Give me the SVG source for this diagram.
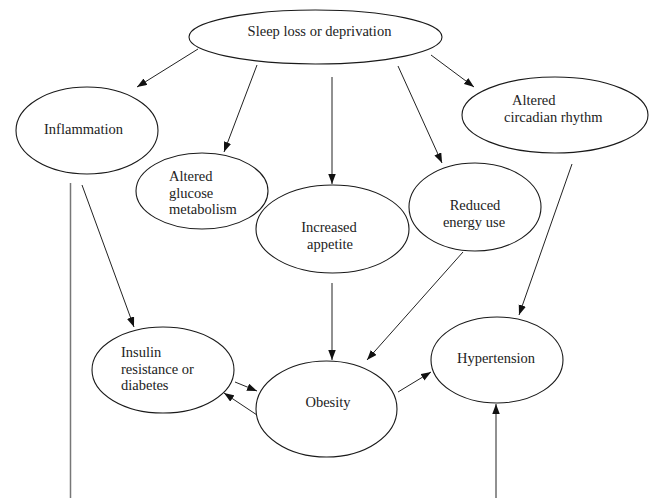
<svg xmlns="http://www.w3.org/2000/svg" width="651" height="498" viewBox="0 0 651 498">
<defs>
<style>
.n ellipse{fill:#fff;stroke:#1a1a1a;stroke-width:1.1}
text{font-family:"Liberation Serif","Times New Roman",serif;font-size:14.5px;fill:#222}
.c{text-anchor:middle}
#connectors line{stroke:#222;stroke-width:1}
</style>
<marker id="ah" markerUnits="userSpaceOnUse" markerWidth="10" markerHeight="8" refX="10" refY="3.75" orient="auto">
<path d="M0,0 L10,3.75 L0,7.5 z" fill="#111"/>
</marker>
</defs>
<rect width="651" height="498" fill="#fff"/>
<g id="connectors">
<line x1="198" y1="49" x2="137" y2="87" marker-end="url(#ah)"/>
<line x1="257" y1="65" x2="224" y2="152" marker-end="url(#ah)"/>
<line x1="332" y1="77" x2="332" y2="184" marker-end="url(#ah)"/>
<line x1="398" y1="66" x2="442" y2="163" marker-end="url(#ah)"/>
<line x1="431" y1="55" x2="474" y2="87" marker-end="url(#ah)"/>
<line x1="572" y1="164" x2="519" y2="315" marker-end="url(#ah)"/>
<line x1="82" y1="185" x2="134" y2="327" marker-end="url(#ah)"/>
<line x1="332" y1="283" x2="332" y2="360" marker-end="url(#ah)"/>
<line x1="463" y1="252" x2="367" y2="360" marker-end="url(#ah)"/>
<line x1="235" y1="382" x2="257" y2="391" marker-end="url(#ah)"/>
<line x1="257" y1="415" x2="224" y2="393" marker-end="url(#ah)"/>
<line x1="398" y1="392" x2="431" y2="372" marker-end="url(#ah)"/>
<line x1="496" y1="498" x2="496" y2="404" marker-end="url(#ah)"/>
<line x1="70.5" y1="183" x2="70.5" y2="498" style="stroke:#777;stroke-width:1.5"/>
</g>
<g id="sleep" class="n"><ellipse cx="315.5" cy="37" rx="126.5" ry="27"/><text class="c" x="319.5" y="36">Sleep loss or deprivation</text></g>
<g id="inflammation" class="n"><ellipse cx="87" cy="130.5" rx="71" ry="43.5"/><text class="c" x="83.5" y="134">Inflammation</text></g>
<g id="glucose" class="n"><ellipse cx="202" cy="191" rx="66" ry="38"/><text x="169" y="181">Altered</text><text x="169" y="197.5">glucose</text><text x="169" y="214">metabolism</text></g>
<g id="appetite" class="n"><ellipse cx="332.5" cy="229" rx="76.5" ry="44"/><text class="c" x="329" y="232">Increased</text><text class="c" x="330" y="249">appetite</text></g>
<g id="energy" class="n"><ellipse cx="475" cy="207" rx="66" ry="44"/><text class="c" x="475" y="210">Reduced</text><text class="c" x="474" y="227">energy use</text></g>
<g id="circadian" class="n"><ellipse cx="555" cy="115" rx="93" ry="38"/><text x="512" y="105">Altered</text><text x="504" y="122">circadian rhythm</text></g>
<g id="insulin" class="n"><ellipse cx="163" cy="370" rx="71" ry="43"/><text x="121" y="357">Insulin</text><text x="121" y="373.5">resistance or</text><text x="121" y="390">diabetes</text></g>
<g id="obesity" class="n"><ellipse cx="326.5" cy="409" rx="70.5" ry="48"/><text class="c" x="328" y="407">Obesity</text></g>
<g id="hypertension" class="n"><ellipse cx="497" cy="360" rx="66" ry="43"/><text class="c" x="496" y="363">Hypertension</text></g>
</svg>
